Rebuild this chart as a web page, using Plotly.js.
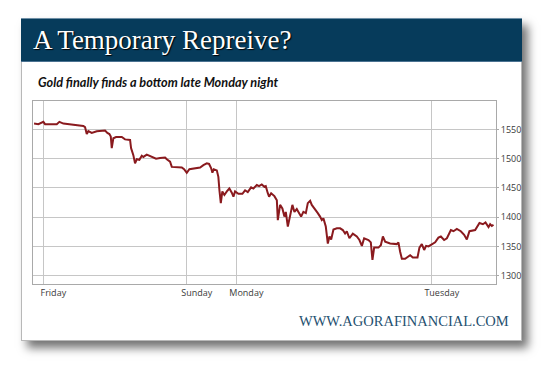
<!DOCTYPE html>
<html>
<head>
<meta charset="utf-8">
<script src="https://cdn.plot.ly/plotly-3.0.1.min.js"></script>
<style>
  html, body { margin: 0; padding: 0; background: #ffffff; width: 548px; height: 370px; overflow: hidden; }
  #card { position: absolute; left: 21px; top: 18px; width: 499px; height: 321px; background: #ffffff;
          border: 1px solid #b8b8b8; box-shadow: 6px 7px 9px rgba(0,0,0,0.55); }
  #band { position: absolute; left: 21px; top: 18px; width: 501px; height: 44px; background: #063b5b;
          border-top: 1px solid #6f8fa6; border-bottom: 1px solid #4a7291; box-sizing: border-box; }
  #chart { position: absolute; left: 0; top: 0; width: 548px; height: 370px; }
</style>
</head>
<body>
<div id="card"></div>
<div id="band"></div>
<div id="chart"></div>
<script>
// Trading hours since Friday 00:00 (weekend gap removed)
const hours = [
 -1.14,-0.61,0,0.21,1.65,1.97,2.46,3.28,3.68,4.91,5.12,5.24,5.33,5.53,5.94,6.56,7.58,7.86,8.11,8.28,
 8.40,8.60,8.93,9.63,10.03,10.65,10.77,11.05,11.26,11.47,11.79,12.09,12.28,12.70,13.02,13.51,13.84,14.33,14.95,15.16,
 15.56,15.77,16.38,17.00,17.28,17.61,17.93,18.63,19.25,19.65,20.07,20.35,20.60,20.76,20.93,21.30,21.49,21.62,21.79,21.98,
 22.23,22.53,22.84,23.14,23.34,23.54,23.95,24.44,24.77,25.10,25.51,25.79,26.21,26.49,26.82,27.14,27.31,27.56,27.72,27.97,
 28.37,28.67,28.79,29.07,29.35,29.60,29.77,30.02,30.30,30.58,30.83,31.12,31.32,31.65,31.93,32.23,32.47,32.76,32.96,33.37,
 33.70,33.98,34.19,34.39,34.68,34.93,35.13,35.34,35.62,36.04,36.44,36.77,37.05,37.26,37.58,38.00,38.49,38.81,39.11,39.39,
 39.92,40.21,40.41,40.62,41.14,41.44,41.69,41.97,42.58,43.40,43.60,43.81,44.02,44.42,45.04,45.37,45.94,46.18,46.47,46.76,
 47.00,47.29,47.58,48.11,48.51,48.81,49.21,49.55,50.04,50.36,50.77,51.26,51.67,52.00,52.32,53.02,53.55,53.97,54.29,54.46,
 54.66,54.86,55.07,55.27
];
const goldPrice = [
 1560,1559,1563,1559,1559,1563,1560,1559,1558,1556,1554,1548,1542,1547,1544,1547,1548,1544,1542,1538,
 1518,1535,1537,1537,1533,1532,1518,1506,1492,1499,1498,1505,1503,1507,1505,1503,1500,1501,1502,1499,
 1495,1486,1486,1485,1482,1476,1482,1483,1485,1489,1492,1491,1484,1476,1482,1480,1469,1446,1424,1444,
 1438,1444,1449,1442,1435,1444,1440,1440,1446,1443,1451,1449,1455,1453,1456,1452,1453,1441,1435,1441,
 1436,1429,1395,1421,1415,1401,1409,1384,1401,1421,1409,1414,1409,1401,1409,1407,1424,1428,1421,1414,
 1407,1401,1395,1398,1384,1355,1367,1362,1379,1381,1381,1378,1372,1376,1364,1372,1367,1361,1351,1364,
 1361,1357,1327,1348,1348,1352,1367,1358,1355,1354,1357,1341,1329,1329,1335,1331,1331,1348,1354,1344,
 1351,1350,1352,1357,1365,1367,1361,1364,1378,1376,1380,1376,1370,1362,1376,1378,1390,1388,1391,1388,
 1383,1388,1385,1387
];
const dayTickHours = [0, 17.61, 23.70, 47.70];
const dayTickLabels = ["Friday", "Sunday", "Monday", "Tuesday"];
const priceTicks = [1300, 1350, 1400, 1450, 1500, 1550];

const titleText = "A Temporary Repreive?";
const subtitleText = "Gold finally finds a bottom late Monday night";
const footerText = "WWW.AGORAFINANCIAL.COM";

// plot area in pixels
const L = 33, R = 496, T = 101, B = 284, W = 548, H = 370;
const px = x => (x - L) / (R - L);
const py = y => (B - y) / (B - T);

const trace = {
  x: hours, y: goldPrice, type: "scatter", mode: "lines",
  line: { color: "#8a1a1e", width: 2 }, hoverinfo: "skip"
};

const layout = {
  width: W, height: H,
  margin: { l: L, r: W - R, t: T, b: H - B, pad: 0 },
  paper_bgcolor: "rgba(0,0,0,0)", plot_bgcolor: "#ffffff",
  showlegend: false,
  xaxis: {
    range: [-1.27, 55.58], tickvals: dayTickHours, ticktext: dayTickLabels,
    showgrid: true, gridcolor: "#c6c6c6", gridwidth: 1, zeroline: false,
    showline: true, mirror: true, linecolor: "#a9a9a9", linewidth: 1,
    ticks: "", ticklabelshift: 10, ticklabelstandoff: 0,
    tickfont: { family: "Open Sans, sans-serif", size: 9, color: "#3a3a3a" }
  },
  yaxis: {
    range: [1285.8, 1598.6], side: "right", tickvals: priceTicks,
    showgrid: true, gridcolor: "#c6c6c6", gridwidth: 1, zeroline: false,
    showline: true, mirror: true, linecolor: "#a9a9a9", linewidth: 1,
    ticks: "outside", ticklen: 2, tickcolor: "#a9a9a9", ticklabelstandoff: 0,
    tickfont: { family: "Open Sans, sans-serif", size: 9, color: "#3a3a3a" }
  },
  annotations: [
    { text: titleText, xref: "paper", yref: "paper", x: px(31), y: py(40.5),
      xanchor: "left", yanchor: "middle", showarrow: false,
      font: { family: "Liberation Serif, serif", size: 27, color: "#ffffff", shadow: "1px 1px 1px #000000" } },
    { text: "<b><i>" + subtitleText + "</i></b>", xref: "paper", yref: "paper", x: px(36), y: py(81.5),
      xanchor: "left", yanchor: "middle", showarrow: false,
      font: { family: "Lato, sans-serif", size: 12.7, color: "#111111" } },
    { text: footerText, xref: "paper", yref: "paper", x: px(511), y: py(320.5),
      xanchor: "right", yanchor: "middle", showarrow: false,
      font: { family: "Liberation Serif, serif", size: 14.5, color: "#1f5170" } }
  ]
};

Plotly.newPlot("chart", [trace], layout, { staticPlot: true, displayModeBar: false });
</script>
</body>
</html>
